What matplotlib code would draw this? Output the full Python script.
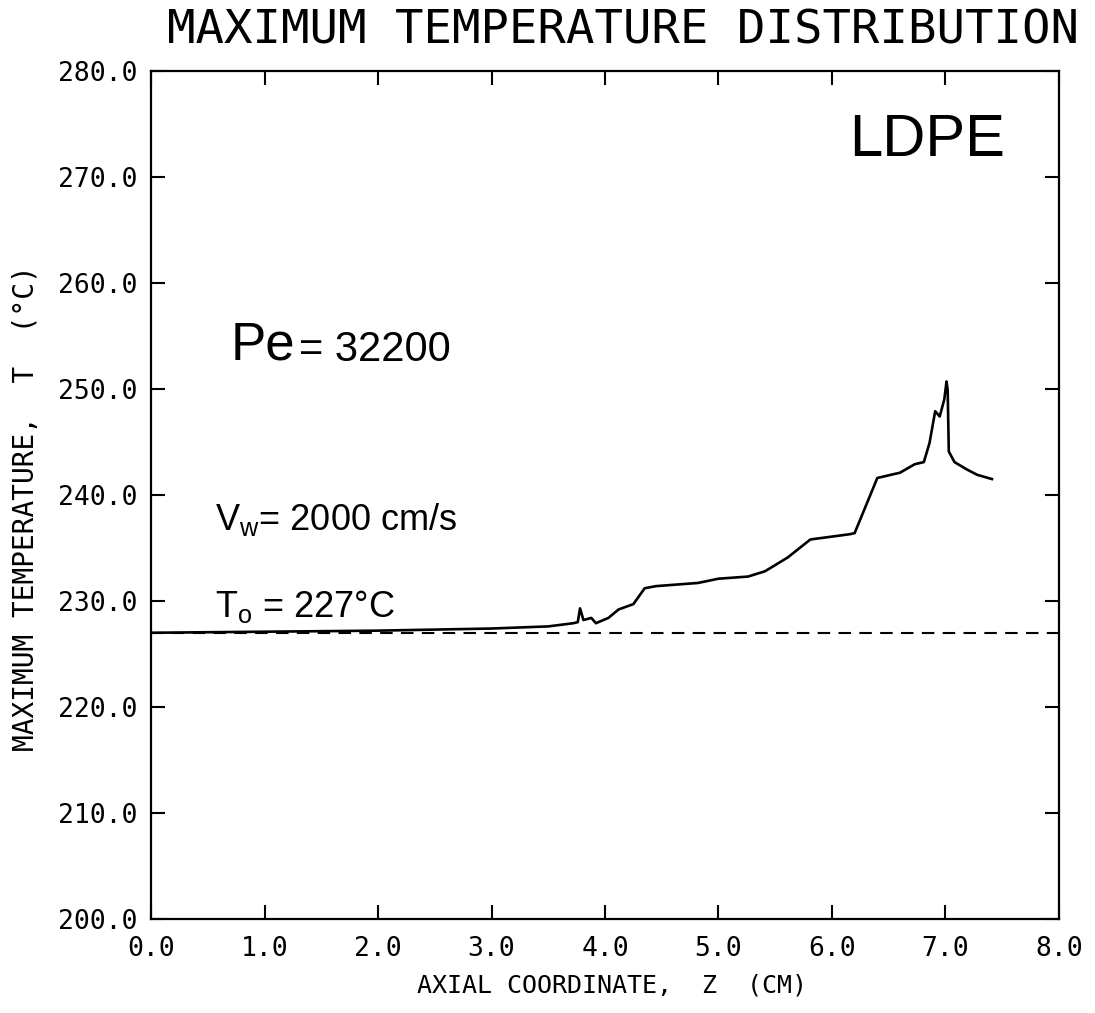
import matplotlib
matplotlib.use("Agg")
import matplotlib.pyplot as plt
import numpy as np

# Temperatura maxima a lo largo del eje (LDPE)
z = [0.0, 1.0, 2.0, 3.0, 3.5, 3.72, 3.76, 3.78, 3.81, 3.88, 3.92, 4.03, 4.12,
     4.25, 4.35, 4.45, 4.82, 5.00, 5.26, 5.41, 5.61, 5.81, 6.16, 6.20, 6.40,
     6.60, 6.73, 6.81, 6.86, 6.91, 6.95, 6.99, 7.01, 7.02, 7.03, 7.08, 7.19,
     7.28, 7.41]
T = [227.0, 227.1, 227.2, 227.4, 227.6, 227.9, 228.0, 229.3, 228.2, 228.4,
     227.9, 228.4, 229.2, 229.7, 231.2, 231.4, 231.7, 232.1, 232.3, 232.8,
     234.1, 235.8, 236.3, 236.4, 241.6, 242.1, 242.9, 243.1, 244.9, 247.9,
     247.4, 249.0, 250.7, 249.9, 244.1, 243.1, 242.4, 241.9, 241.5]

T0 = 227.0
xticks = np.arange(0.0, 8.01, 1.0)
yticks = np.arange(200.0, 280.01, 10.0)

mono = "DejaVu Sans Mono"
sans = "Liberation Sans"

fig = plt.figure(figsize=(10.95, 10.13), dpi=100)
ax = fig.add_axes([0.138, 0.0928, 0.829, 0.8372])

ax.plot(z, T, color="black", lw=1.9, solid_joinstyle="round")
ax.axhline(T0, color="black", lw=1.5, linestyle=(0, (6, 4)))

ax.set_xlim(0, 8)
ax.set_ylim(200, 280)
ax.set_xticks(xticks)
ax.set_yticks(yticks)
ax.set_xticklabels([f"{v:.1f}" for v in xticks], family=mono, fontsize=19)
ax.set_yticklabels([f"{v:.1f}" for v in yticks], family=mono, fontsize=19)
ax.tick_params(direction="in", length=10, width=1.5, top=True, right=True)
ax.tick_params(axis="x", pad=12)
ax.tick_params(axis="y", pad=10)
for s in ax.spines.values():
    s.set_linewidth(1.6)

# textos de la grafica
fig.text(0.569, 0.969, "MAXIMUM TEMPERATURE DISTRIBUTION", family=mono,
         fontsize=34, ha="center", va="center", fontweight="light")
fig.text(0.381, 0.015, "AXIAL COORDINATE,  Z  (CM)", family=mono,
         fontsize=18, ha="left", va="bottom")
fig.text(0.024, 0.4985, "MAXIMUM TEMPERATURE,  T  (\u00b0C)", family=mono,
         fontsize=20, rotation=90, ha="center", va="center")

ax.text(6.15, 272.0, "LDPE", family=sans, fontsize=43, ha="left",
        va="baseline")
pe = ax.text(0.70, 252.8, "Pe", family=sans, fontsize=38, ha="left",
             va="baseline")
ax.annotate("= 32200", xy=(1, 0), xycoords=pe, xytext=(3, 0),
            textcoords="offset points", family=sans, fontsize=30,
            ha="left", va="bottom")
ax.text(0.56, 236.7, r"$\mathregular{V_w}$= 2000 cm/s", family=sans,
        fontsize=26, ha="left", va="baseline")
ax.text(0.56, 228.5, r"$\mathregular{T_o}$ = 227" + "\u00b0C", family=sans,
        fontsize=26, ha="left", va="baseline")

fig.savefig("out.png", dpi=100)
